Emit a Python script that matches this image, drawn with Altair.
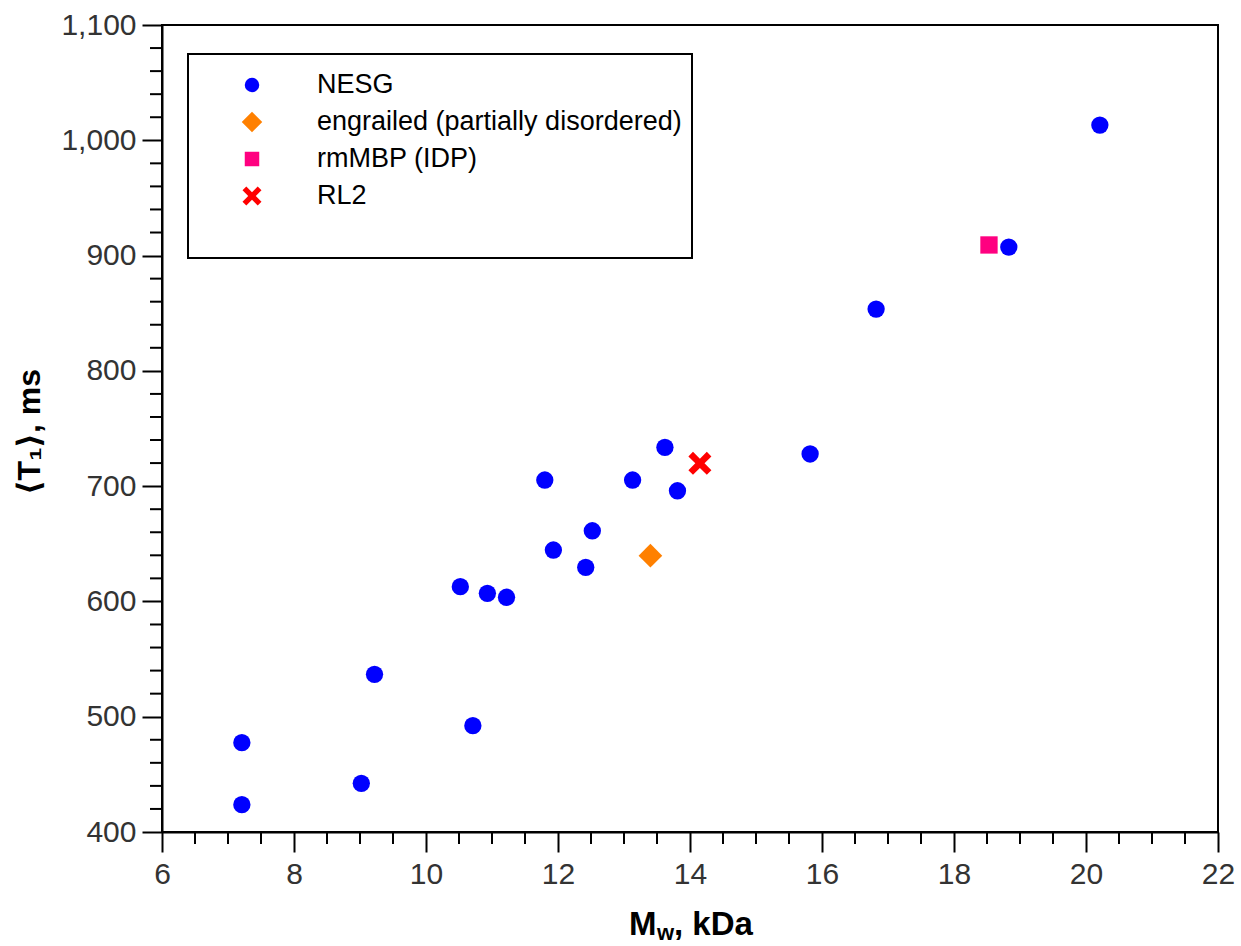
import altair as alt
import pandas as pd

# ---- data ----
nesg_mw = [7.21, 7.21, 9.22, 9.02, 10.52, 10.71, 10.93, 11.22, 11.80, 11.93,
           12.42, 12.52, 13.13, 13.62, 13.81, 15.82, 16.82, 18.83, 20.21]
nesg_t1 = [477.5, 423.7, 536.8, 442.2, 612.8, 492.2, 607.0, 603.6, 705.3, 644.6,
           629.6, 661.3, 705.3, 733.7, 696.0, 727.9, 853.6, 907.4, 1013.2]
engrailed_mw = [13.40]
engrailed_t1 = [639.7]
rmmbp_mw = [18.53]
rmmbp_t1 = [909.2]
rl2_mw = [14.15]
rl2_t1 = [719.8]

series_names = ["NESG", "engrailed (partially disordered)", "rmMBP (IDP)", "RL2"]
series_colors = ["#0000FF", "#FF8000", "#FF0080", "#FF0000"]
X_PATH = ("M-1,-0.6L-0.6,-1L0,-0.4L0.6,-1L1,-0.6L0.4,0L1,0.6L0.6,1"
          "L0,0.4L-0.6,1L-1,0.6L-0.4,0Z")
series_shapes = ["circle", "diamond", "square", X_PATH]
series_sizes = [300, 560, 300, 530]
legend_sizes = [210, 420, 210, 360]

x_major = [6, 8, 10, 12, 14, 16, 18, 20, 22]
y_major = [400, 500, 600, 700, 800, 900, 1000, 1100]
x_minor = [v / 2 for v in range(12, 45) if v % 4 != 0]
y_minor = [v for v in range(400, 1101, 20) if v % 100 != 0]

FONT = "Liberation Sans, Arial, DejaVu Sans"
W, H = 1056, 807

rows = []
for name, xs, ys in [(series_names[0], nesg_mw, nesg_t1),
                     (series_names[1], engrailed_mw, engrailed_t1),
                     (series_names[2], rmmbp_mw, rmmbp_t1),
                     (series_names[3], rl2_mw, rl2_t1)]:
    for a, b in zip(xs, ys):
        rows.append({"series": name, "mw": a, "t1": b})
df = pd.DataFrame(rows)

xscale = alt.Scale(domain=[6, 22], nice=False, zero=False)
yscale = alt.Scale(domain=[400, 1100], nice=False, zero=False)

points = alt.Chart(df).mark_point(filled=True, opacity=1, strokeWidth=0).encode(
    x=alt.X("mw:Q", scale=xscale,
            axis=alt.Axis(values=x_major, format="d", title=None, tickSize=20,
                          tickWidth=2, tickColor="black", domainColor="black",
                          domainWidth=2, labelFontSize=30, labelColor="#333333",
                          labelFont=FONT, labelPadding=7, grid=False,
                          labelFlush=False)),
    y=alt.Y("t1:Q", scale=yscale,
            axis=alt.Axis(values=y_major, format=",d", title="⟨T₁⟩, ms",
                          tickSize=20, tickWidth=2, tickColor="black",
                          domainColor="black", domainWidth=2,
                          labelFontSize=30, labelColor="#333333", labelFont=FONT,
                          labelPadding=6, grid=False, labelFlush=False,
                          titleFont=FONT, titleFontSize=32, titleFontWeight="bold",
                          titleColor="black", titleAngle=270, titleX=-133,
                          titleY=H / 2 + 3, titleAlign="center",
                          titleBaseline="middle")),
    color=alt.Color("series:N", scale=alt.Scale(domain=series_names, range=series_colors),
                    legend=None),
    shape=alt.Shape("series:N", scale=alt.Scale(domain=series_names, range=series_shapes),
                    legend=None),
    size=alt.Size("series:N", scale=alt.Scale(type="ordinal", domain=series_names,
                                              range=series_sizes),
                  legend=None),
)

xminor = alt.Chart(pd.DataFrame({"v": x_minor})).mark_rule(
    color="black", strokeWidth=2).encode(
    x=alt.X("v:Q", scale=xscale), y=alt.value(H), y2=alt.value(H + 12))
yminor = alt.Chart(pd.DataFrame({"v": y_minor})).mark_rule(
    color="black", strokeWidth=2).encode(
    y=alt.Y("v:Q", scale=yscale), x=alt.value(-12), x2=alt.value(0))

# legend box
legend_layers = [
    alt.Chart(pd.DataFrame({"k": [0]})).mark_rect(
        fill="white", stroke="black", strokeWidth=2).encode(
        x=alt.value(26), x2=alt.value(530), y=alt.value(29), y2=alt.value(233))
]
for i, name in enumerate(series_names):
    d = pd.DataFrame({"label": [name]})
    ry = 60 + 37 * i
    legend_layers.append(
        alt.Chart(d).mark_point(filled=True, opacity=1, strokeWidth=0,
                                shape=series_shapes[i], size=legend_sizes[i],
                                color=series_colors[i]).encode(
            x=alt.value(90), y=alt.value(ry)))
    legend_layers.append(
        alt.Chart(d).mark_text(align="left", baseline="middle", font=FONT,
                               fontSize=27, color="black").encode(
            x=alt.value(155), y=alt.value(ry), text="label:N"))

# x-axis title with subscript
tdf = pd.DataFrame({"k": [0]})
xt1 = alt.Chart(tdf).mark_text(text="M", align="left", baseline="alphabetic",
                               font=FONT, fontSize=33, fontWeight="bold",
                               color="black").encode(x=alt.value(467), y=alt.value(910))
xt2 = alt.Chart(tdf).mark_text(text="w", align="left", baseline="alphabetic",
                               font=FONT, fontSize=22, fontWeight="bold",
                               color="black").encode(x=alt.value(495), y=alt.value(915))
xt3 = alt.Chart(tdf).mark_text(text=", kDa", align="left", baseline="alphabetic",
                               font=FONT, fontSize=33, fontWeight="bold",
                               color="black").encode(x=alt.value(512), y=alt.value(910))

chart = alt.layer(xminor, yminor, *legend_layers, points, xt1, xt2, xt3).properties(
    width=W, height=H,
    autosize=alt.AutoSizeParams(type="none"),
    padding={"left": 162, "top": 25, "right": 23, "bottom": 114},
    background="white",
).configure_view(stroke="black", strokeWidth=2)

chart.save("out.html", embed_options={"renderer": "svg", "actions": False})
